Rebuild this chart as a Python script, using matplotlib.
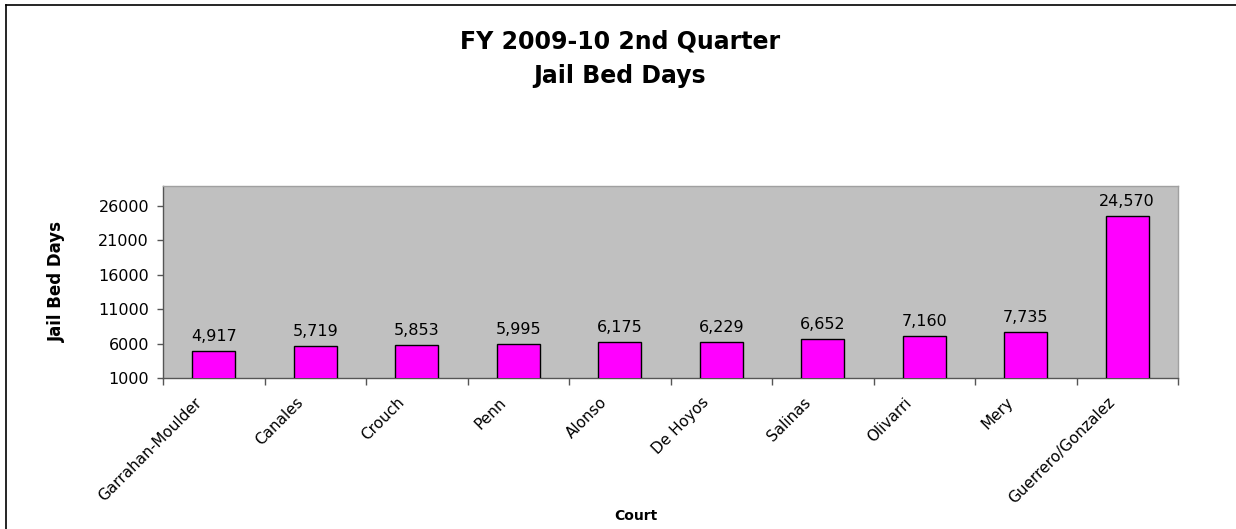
import matplotlib
matplotlib.use("Agg")
import matplotlib.pyplot as plt
import matplotlib.transforms as mtransforms
from matplotlib.lines import Line2D

courts = ["Garrahan-Moulder", "Canales", "Crouch", "Penn", "Alonso",
          "De Hoyos", "Salinas", "Olivarri", "Mery", "Guerrero/Gonzalez"]
bed_days = [4917, 5719, 5853, 5995, 6175, 6229, 6652, 7160, 7735, 24570]
yticks = [1000, 6000, 11000, 16000, 21000, 26000]

plt.rcParams['font.family'] = ['DejaVu Sans']

W, H = 1236, 529
fig = plt.figure(figsize=(W / 100, H / 100), dpi=100)
ax = fig.add_axes([163 / W, 1 - 378 / H, (1178 - 163) / W, (378 - 186) / H])
ax.set_facecolor("#C0C0C0")

x = list(range(len(courts)))
bars = ax.bar(x, bed_days, width=0.42, color="#FF00FF", edgecolor="black",
              linewidth=1.0, zorder=3)
for xi, v in zip(x, bed_days):
    ax.annotate("{:,}".format(v), (xi, v), xytext=(0, 10),
                textcoords="offset pixels", ha="center", va="baseline",
                fontsize=11.5, color="black")

ax.set_xlim(-0.5, len(courts) - 0.5)
ax.set_ylim(1000, 28900)
ax.set_yticks(yticks)
ax.set_yticklabels([str(t) for t in yticks], fontsize=11.5)
ax.set_xticks(x)
ax.set_xticklabels(courts, rotation=45, ha="right", va="top",
                   rotation_mode="anchor", fontsize=11)
ax.tick_params(axis="x", length=0, pad=10)
shift = mtransforms.ScaledTranslation(-0.20, -0.03, fig.dpi_scale_trans)
for lbl in ax.get_xticklabels():
    lbl.set_transform(lbl.get_transform() + shift)
ax.set_xticks([i - 0.5 for i in range(len(courts) + 1)], minor=True)
ax.tick_params(axis="x", which="minor", length=5, width=1, color="#555555")
ax.tick_params(axis="y", length=4, width=1, color="#555555", pad=6)

for s in ["top", "right"]:
    ax.spines[s].set_color("#A0A0A0")
    ax.spines[s].set_linewidth(1)
for s in ["left", "bottom"]:
    ax.spines[s].set_color("#555555")
    ax.spines[s].set_linewidth(1)

fig.text(57 / W, 1 - 282 / H, "Jail Bed Days", rotation=90, ha="center",
         va="center", fontsize=12, fontweight="bold")

fig.text(620 / W, 1 - 48 / H, "FY 2009-10 2nd Quarter", ha="center",
         va="baseline", fontsize=17, fontweight="bold")
fig.text(620 / W, 1 - 83 / H, "Jail Bed Days", ha="center",
         va="baseline", fontsize=17, fontweight="bold")
fig.text(636 / W, 1 - 516 / H, "Court", ha="center", va="center",
         fontsize=10, fontweight="bold")

# chart border (left and top edges visible)
fig.add_artist(Line2D([6 / W, 6 / W], [0, 1 - 5 / H], transform=fig.transFigure,
                      color="black", linewidth=1.2))
fig.add_artist(Line2D([6 / W, 1], [1 - 5 / H, 1 - 5 / H], transform=fig.transFigure,
                      color="black", linewidth=1.2))

fig.savefig("out.png", dpi=100)
